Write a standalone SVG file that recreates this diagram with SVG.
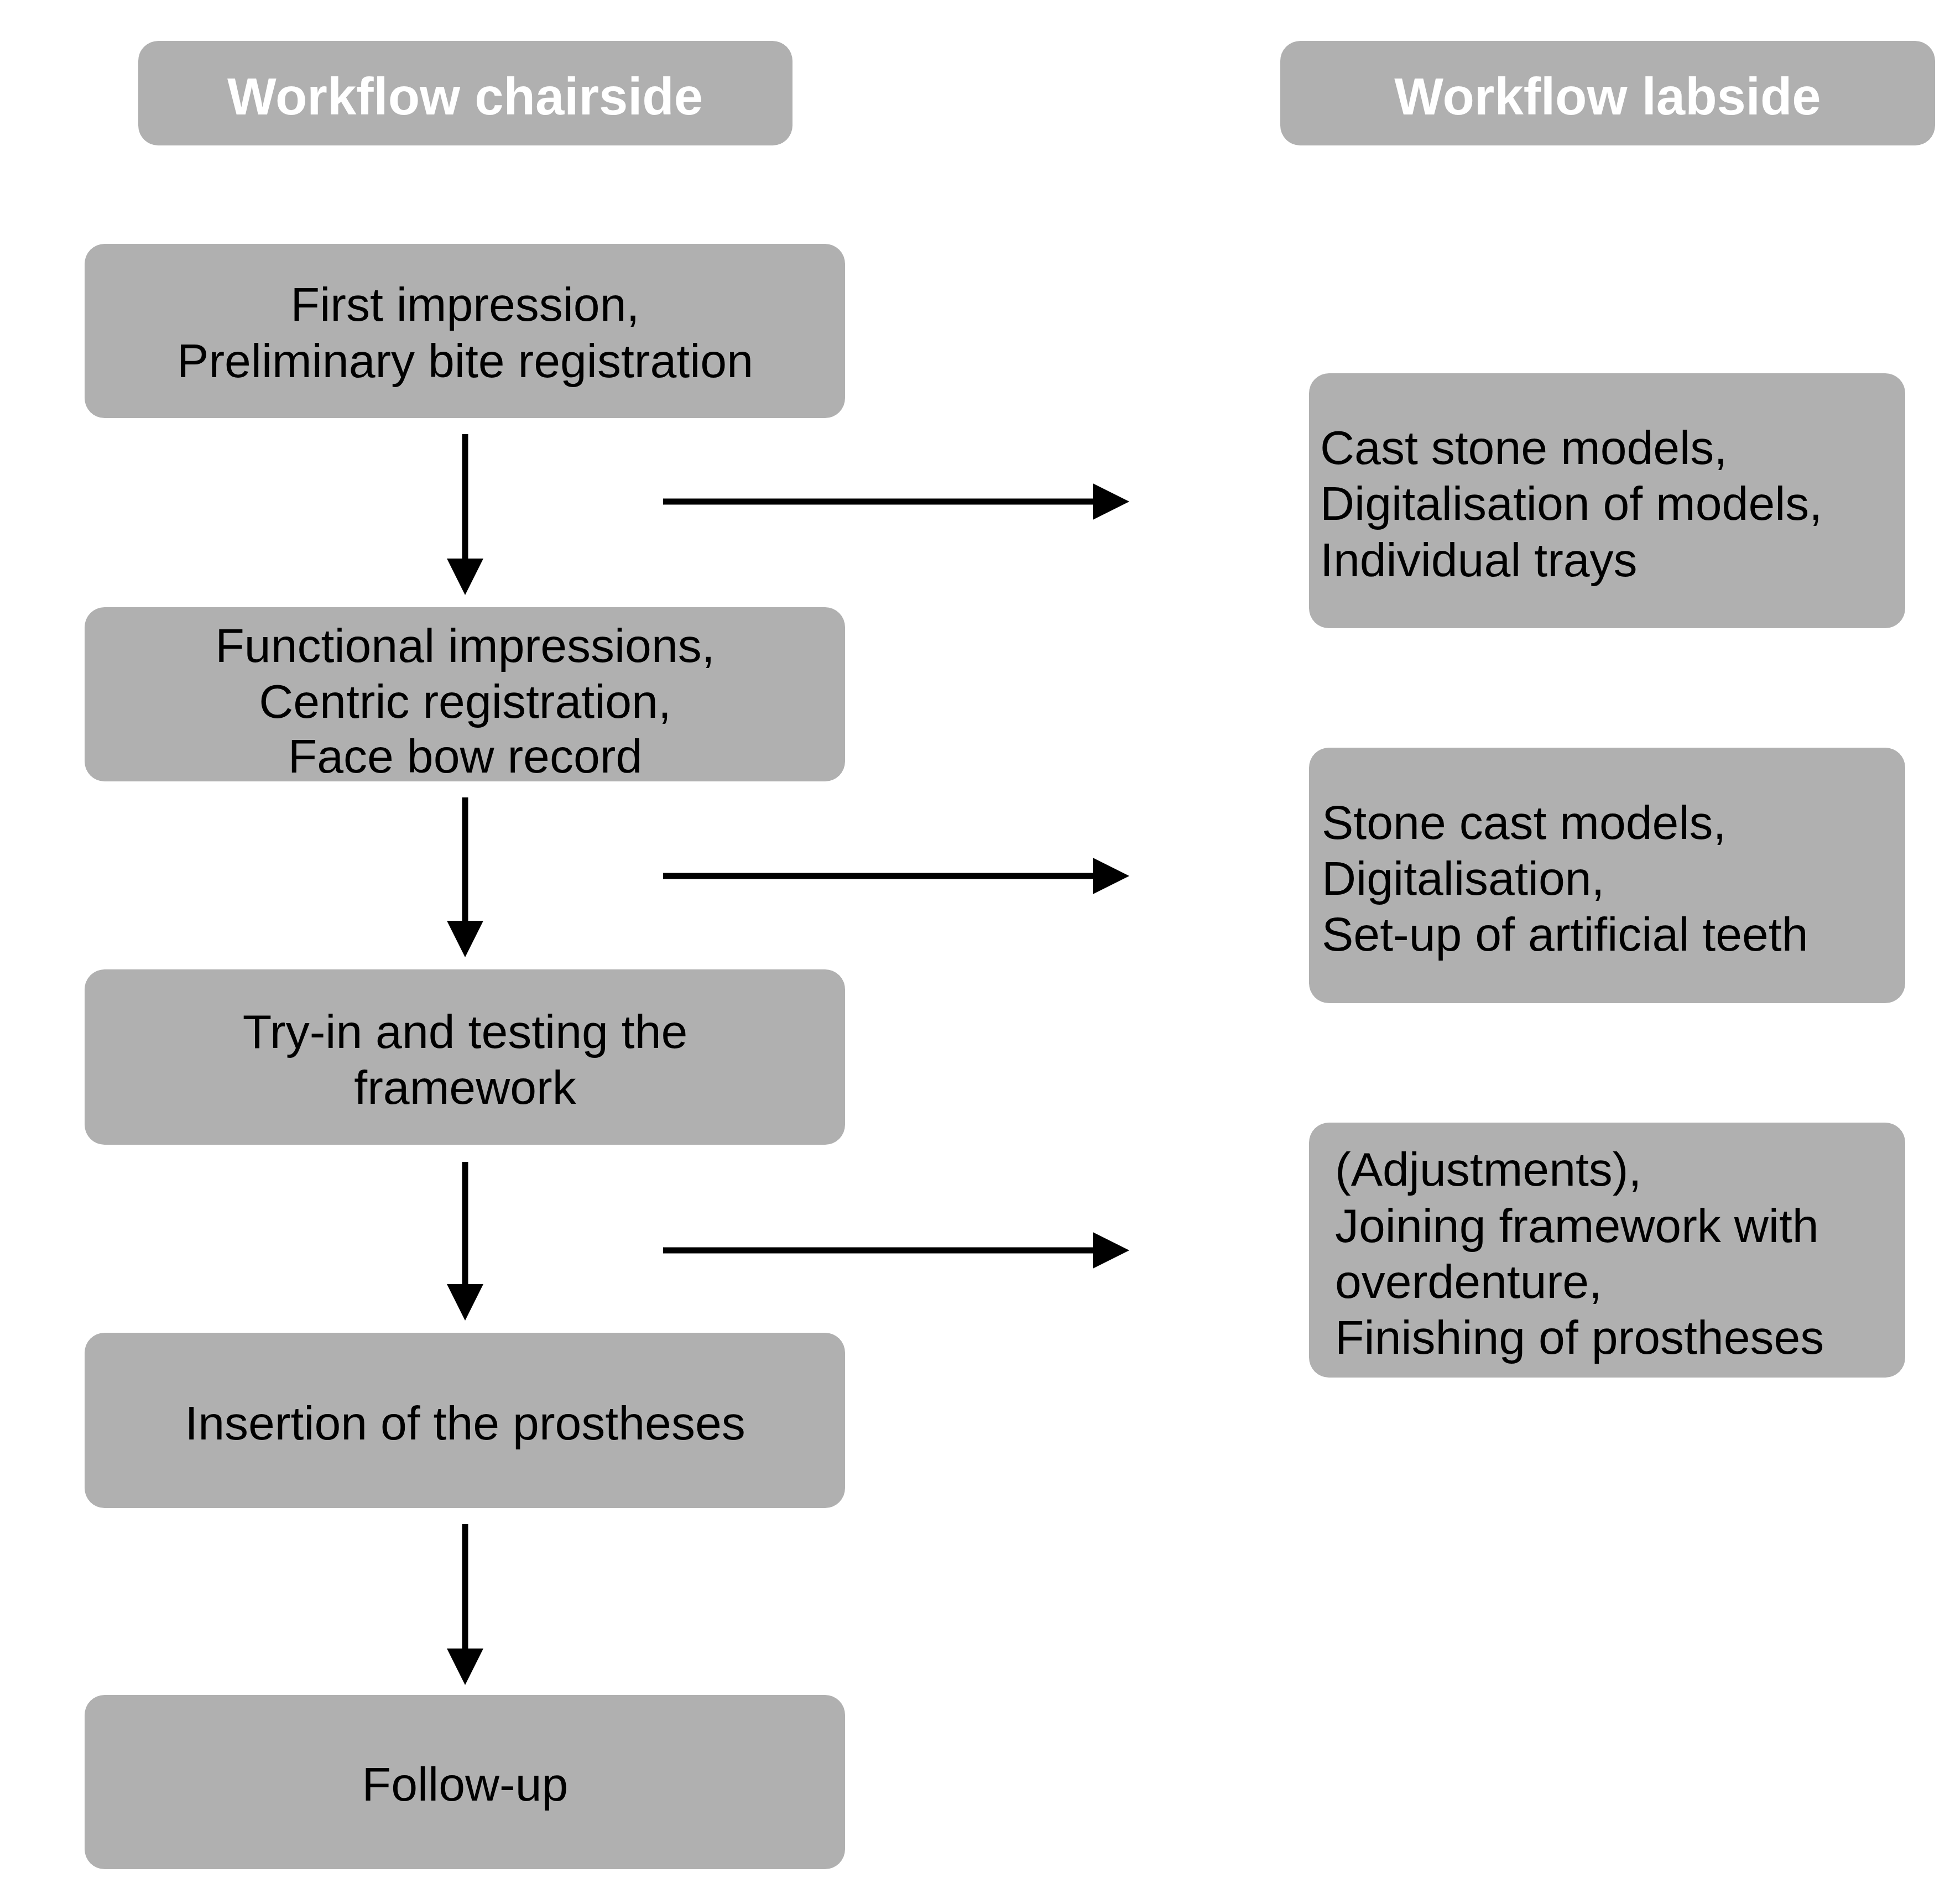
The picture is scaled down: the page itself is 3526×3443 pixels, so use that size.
<svg xmlns="http://www.w3.org/2000/svg" width="3526" height="3443" viewBox="0 0 3526 3443">
<style>
.box{fill:#b0b0b0}
.t{font-family:"Liberation Sans",Arial,sans-serif;font-size:86px;fill:#000}
.c{text-anchor:middle}
.h{font-family:"Liberation Sans",Arial,sans-serif;font-size:94px;font-weight:bold;fill:#fff;text-anchor:middle}
.ln{stroke:#000;stroke-width:11;fill:none}
</style>
<defs><marker id="a" markerWidth="6" markerHeight="6" refX="0" refY="3" orient="auto" markerUnits="strokeWidth" viewBox="0 0 6 6"><path d="M0,0 L6,3 L0,6 z" fill="#000"/></marker></defs>
<rect width="3526" height="3443" fill="#fff"/>
<g id="hdr-chair"><rect class="box" x="250" y="74" width="1183" height="189" rx="36"/><text class="h" x="841" y="207">Workflow chairside</text></g>
<g id="hdr-lab"><rect class="box" x="2315" y="74" width="1184" height="189" rx="36"/><text class="h" x="2907" y="207">Workflow labside</text></g>
<g id="n1"><rect class="box" x="153" y="441" width="1375" height="315" rx="36"/><text class="t c" x="841" y="580">First impression,</text><text class="t c" x="841" y="682">Preliminary bite registration</text></g>
<g id="n2"><rect class="box" x="153" y="1098" width="1375" height="315" rx="36"/><text class="t c" x="841" y="1197">Functional impressions,</text><text class="t c" x="841" y="1298">Centric registration,</text><text class="t c" x="841" y="1397">Face bow record</text></g>
<g id="n3"><rect class="box" x="153" y="1753" width="1375" height="317" rx="36"/><text class="t c" x="841" y="1895">Try-in and testing the</text><text class="t c" x="841" y="1996">framework</text></g>
<g id="n4"><rect class="box" x="153" y="2410" width="1375" height="317" rx="36"/><text class="t c" x="841" y="2603">Insertion of the prostheses</text></g>
<g id="n5"><rect class="box" x="153" y="3065" width="1375" height="315" rx="36"/><text class="t c" x="841" y="3256">Follow-up</text></g>
<g id="r1"><rect class="box" x="2367" y="675" width="1078" height="461" rx="36"/><text class="t" x="2387" y="839">Cast stone models,</text><text class="t" x="2387" y="940">Digitalisation of models,</text><text class="t" x="2387" y="1042">Individual trays</text></g>
<g id="r2"><rect class="box" x="2367" y="1352" width="1078" height="462" rx="36"/><text class="t" x="2390" y="1517">Stone cast models,</text><text class="t" x="2390" y="1618">Digitalisation,</text><text class="t" x="2390" y="1719">Set-up of artificial teeth</text></g>
<g id="r3"><rect class="box" x="2367" y="2030" width="1078" height="461" rx="36"/><text class="t" x="2414" y="2144">(Adjustments),</text><text class="t" x="2414" y="2246">Joining framework with</text><text class="t" x="2414" y="2347">overdenture,</text><text class="t" x="2414" y="2448">Finishing of prostheses</text></g>
<g id="connectors">
<path class="ln" d="M841,785 V1010" marker-end="url(#a)"/>
<path class="ln" d="M841,1442 V1665" marker-end="url(#a)"/>
<path class="ln" d="M841,2101 V2322" marker-end="url(#a)"/>
<path class="ln" d="M841,2756 V2981" marker-end="url(#a)"/>
<path class="ln" d="M1199,907 H1976" marker-end="url(#a)"/>
<path class="ln" d="M1199,1584 H1976" marker-end="url(#a)"/>
<path class="ln" d="M1199,2261 H1976" marker-end="url(#a)"/>
</g>
</svg>
